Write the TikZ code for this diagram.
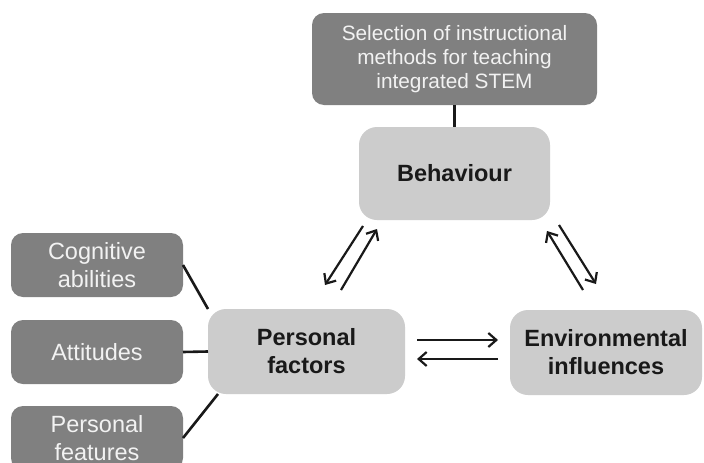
\documentclass[tikz,border=0pt]{standalone}
\usepackage{fontspec}
\setmainfont{Liberation Sans}
\usetikzlibrary{arrows.meta}
\definecolor{boxdark}{HTML}{808080}
\definecolor{boxlight}{HTML}{CCCCCC}
\definecolor{textlight}{HTML}{F2F2F2}
\tikzset{
	darkbox/.style={fill=boxdark, rounded corners=12pt, text=textlight, align=center, outer sep=0pt, inner sep=2pt},
	lightbox/.style={fill=boxlight, rounded corners=18pt, text=black!90, align=center, outer sep=0pt, inner sep=2pt, font=\bfseries\fontsize{23.5}{28}\selectfont},
	link/.style={line width=2.6pt, black!90},
	flow/.style={line width=2.2pt, black!90, -{Straight Barb[length=8pt,width=14pt,line width=2.2pt]}}
}

\begin{document}
\begin{tikzpicture}[x=1pt, y=-1pt]
			%%%%% START %%%%%
			
			\clip (0, 0) rectangle (704, 463);
			\fill[white] (0, 0) rectangle (704, 463);
			
			\node[darkbox, minimum width=285pt, minimum height=92pt, font=\fontsize{20.8}{24}\selectfont] (sel) at (454.5, 59) {Selection of instructional\\methods for teaching\\integrated STEM};
			\node[lightbox, minimum width=191pt, minimum height=93pt] (beh) at (454.5, 173.5) {Behaviour};
			\node[lightbox, minimum width=197pt, minimum height=85pt] (pers) at (306.5, 351.5) {Personal\\factors};
			\node[lightbox, minimum width=192pt, minimum height=85pt] (env) at (606, 352.5) {Environmental\\influences};
			
			\node[darkbox, minimum width=172pt, minimum height=64pt, font=\fontsize{23.5}{28}\selectfont] (cog) at (97, 265) {Cognitive\\abilities};
			\node[darkbox, minimum width=172pt, minimum height=64pt, font=\fontsize{23.5}{28}\selectfont] (att) at (97, 352) {Attitudes};
			\node[darkbox, minimum width=172pt, minimum height=64pt, font=\fontsize{23.5}{28}\selectfont] (feat) at (97, 438) {Personal\\features};
			
			\draw[link] (sel.south) -- (beh.north);
			\draw[link] (cog.east) -- (pers.north west);
			\draw[link] (att.east) -- (pers.west);
			\draw[link] (feat.east) -- ([xshift=10pt]pers.south west);
			
			\coordinate (pb1) at (363, 226);
			\coordinate (pb2) at (325, 285);
			\coordinate (pb3) at (341, 290);
			\coordinate (pb4) at (377, 229);
			\draw[flow] (pb1) -- (pb2);
			\draw[flow] (pb3) -- (pb4);
			
			\coordinate (eb1) at (583, 290);
			\coordinate (eb2) at (547, 231);
			\coordinate (eb3) at (559, 225);
			\coordinate (eb4) at (596, 284);
			\draw[flow] (eb1) -- (eb2);
			\draw[flow] (eb3) -- (eb4);
			
			\coordinate (pe1) at (417, 340);
			\coordinate (pe2) at (498, 340);
			\coordinate (pe3) at (498, 359);
			\coordinate (pe4) at (417, 359);
			\draw[flow] (pe1) -- (pe2);
			\draw[flow] (pe3) -- (pe4);
			
			%%%%% END %%%%%
		\end{tikzpicture}
\end{document}
